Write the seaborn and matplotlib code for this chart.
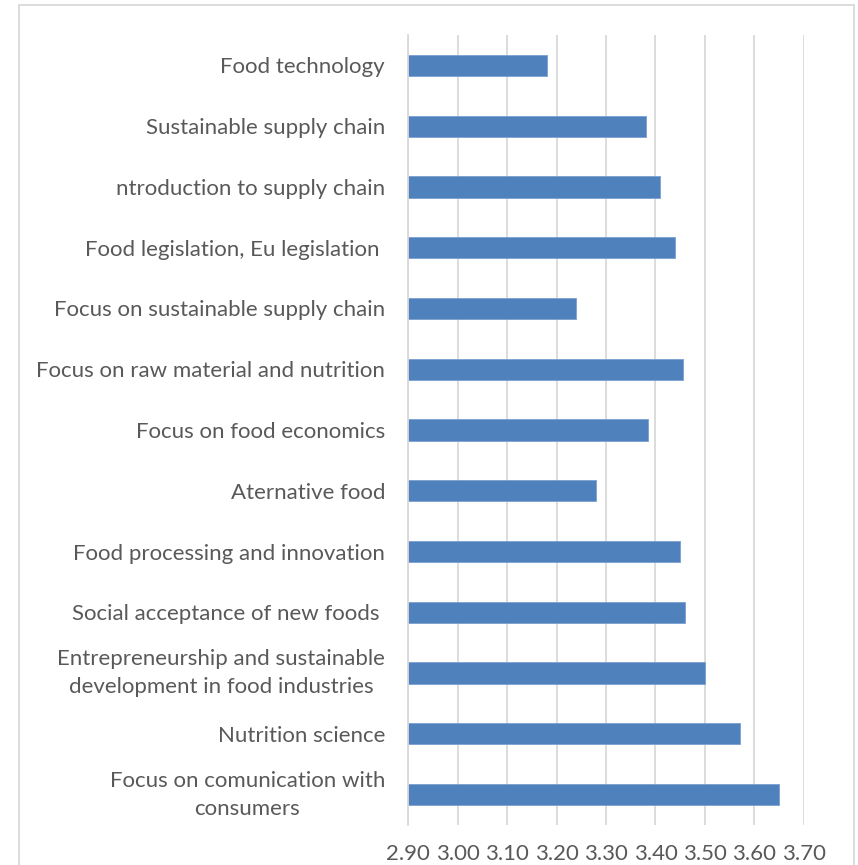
import pandas as pd
import seaborn as sns
import matplotlib.pyplot as plt
from matplotlib.patches import Rectangle

courses = [
    "Food technology",
    "Sustainable supply chain",
    "ntroduction to supply chain",
    "Food legislation, Eu legislation ",
    "Focus on sustainable supply chain",
    "Focus on raw material and nutrition",
    "Focus on food economics",
    "Aternative food",
    "Food processing and innovation",
    "Social acceptance of new foods ",
    "Entrepreneurship and sustainable\ndevelopment in food industries",
    "Nutrition science",
    "Focus on comunication with\nconsumers",
]
scores = [3.18, 3.38, 3.41, 3.44, 3.24, 3.456, 3.384, 3.28, 3.45, 3.46, 3.50, 3.57, 3.65]
x_ticks = [2.90, 3.00, 3.10, 3.20, 3.30, 3.40, 3.50, 3.60, 3.70]


def main():
    sns.set_style("white")
    plt.rcParams['font.family'] = ['Lato', 'DejaVu Sans']

    data = pd.DataFrame({"course": courses, "score": scores})

    fig = plt.figure(figsize=(8.58, 8.65), dpi=100)
    ax = fig.add_axes([408 / 858, 1 - 825 / 865, (804 - 408) / 858, (825 - 35) / 865])

    sns.barplot(ax=ax, data=data, x="score", y="course", orient="h",
                color="#4F81BD", saturation=1, width=0.35, edgecolor="#7A9FD0", linewidth=0.6)

    ax.set_xlim(2.90, 3.70)
    ax.set_xticks(x_ticks)
    ax.set_xticklabels([f"{t:.2f}" for t in x_ticks])
    ax.set_xlabel("")
    ax.set_ylabel("")

    ax.grid(axis="x", color="#D9D9D9", linewidth=1.3)
    ax.set_axisbelow(True)
    for side in ["top", "right", "bottom"]:
        ax.spines[side].set_visible(False)
    ax.spines["left"].set_color("#D9D9D9")
    ax.spines["left"].set_linewidth(1.3)

    ax.tick_params(axis="y", length=0, pad=16.5, labelsize=16, labelcolor="#595959")
    ax.tick_params(axis="x", length=0, pad=13.5, labelsize=16, labelcolor="#595959")
    for lbl in ax.get_yticklabels():
        if "\n" in lbl.get_text():
            # two-line labels: centre the whole block on the bar
            lbl.set_multialignment("center")
            lbl.set_linespacing(1.5)
            lbl.set_verticalalignment("center")

    # chart border
    fig.patches.append(Rectangle((19 / 858, -0.01), (854 - 19) / 858, 1.01 - 5 / 865,
                                 transform=fig.transFigure, fill=False,
                                 edgecolor="#D9D9D9", linewidth=1.3))

    fig.savefig("out.png", dpi=100)


if __name__ == "__main__":
    main()
